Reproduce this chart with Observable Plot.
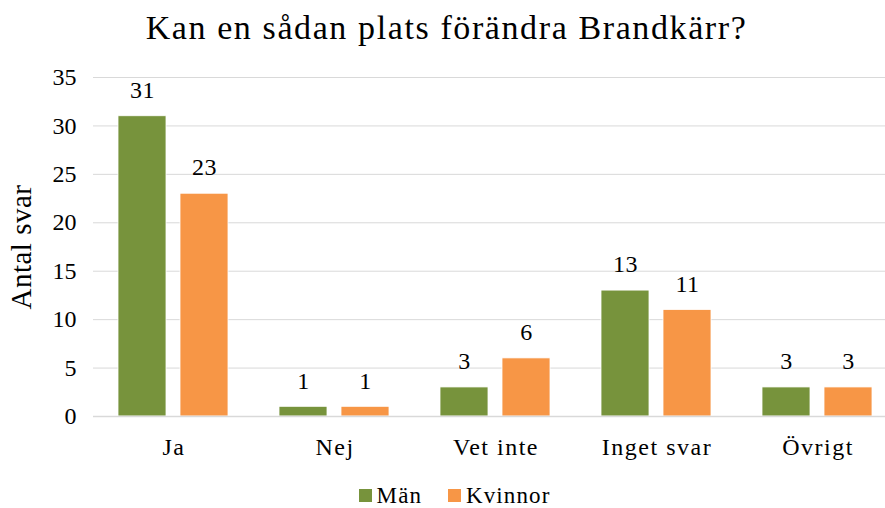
<!DOCTYPE html>
<html>
<head>
<meta charset="utf-8">
<script src="https://cdn.jsdelivr.net/npm/d3@7"></script>
<script src="https://cdn.jsdelivr.net/npm/@observablehq/plot@0.6"></script>
<style>
  body { margin: 0; background: #fff; font-family: "Liberation Serif", serif; }
  #wrap { width: 885px; height: 508px; overflow: hidden; position: relative; }
  #title { height: 55px; line-height: 55px; text-align: center; font-size: 34px; color: #000; letter-spacing: 1.6px; padding-left: 8px; }
  #legend { position: absolute; left: 0; top: 484px; width: 885px; height: 22px; line-height: 22px; box-sizing: border-box; padding-left: 24px; text-align: center; font-size: 23px; letter-spacing: 1.1px; }
  #legend span.item { display: inline-flex; align-items: center; margin: 0 13px; line-height: 22px; }
  #legend span.sw { display: inline-block; width: 13px; height: 13px; margin-right: 5px; }
  svg { display: block; }
  g[aria-label="fx-axis tick label"] text { letter-spacing: 1.5px; }
  g[aria-label="text"] text { letter-spacing: 0.5px; }
</style>
</head>
<body>
<div id="wrap">
  <div id="title">Kan en sådan plats förändra Brandkärr?</div>
  <div id="chart"></div>
  <div id="legend"></div>
</div>
<script>
const categories = ["Ja", "Nej", "Vet inte", "Inget svar", "Övrigt"];
const series = ["Män", "Kvinnor"];
const manValues = [31, 1, 3, 13, 3];
const kvinnorValues = [23, 1, 6, 11, 3];
const colors = ["#77933C", "#F79646"];
const yTicks = [0, 5, 10, 15, 20, 25, 30, 35];

const data = [];
categories.forEach((c, i) => {
  data.push({cat: c, series: series[0], value: manValues[i]});
  data.push({cat: c, series: series[1], value: kvinnorValues[i]});
});

const font = "Liberation Serif";
const chart = Plot.plot({
  width: 885,
  height: 420,
  marginTop: 22,
  marginBottom: 59,
  marginLeft: 92,
  marginRight: -14,
  style: {fontFamily: font, fontSize: "24px", color: "#000", background: "#fff"},
  fx: {domain: categories, paddingInner: 0, paddingOuter: 0, label: null, axis: null},
  x: {domain: series, paddingInner: 0.222, paddingOuter: 0.393, axis: null, label: null},
  y: {domain: [0, 35], ticks: yTicks, label: null, axis: null},
  color: {domain: series, range: colors},
  marks: [
    Plot.ruleY(yTicks.filter(d => d > 0), {stroke: "#d9d9d9", strokeWidth: 1}),
    Plot.barY(data, {fx: "cat", x: "series", y: "value", fill: "series", stroke: "#fff", strokeWidth: 0.8}),
    Plot.ruleY([0], {stroke: "#d9d9d9", strokeWidth: 1.5}),
    Plot.text(data, {fx: "cat", x: "series", y: "value", text: d => String(d.value), dy: -26, fontSize: 24, fontFamily: font, fill: "#000"}),
    Plot.axisY(yTicks, {tickSize: 0, tickPadding: 17, fontSize: 24, fontFamily: font, label: null, anchor: "left"}),
    Plot.axisFx({tickSize: 0, tickPadding: 21, fontSize: 24, fontFamily: font, label: null, anchor: "bottom"}),
    Plot.text(["Antal svar"], {frameAnchor: "left", textAnchor: "middle", rotate: -90, dx: -72, fontSize: 29, fontFamily: font, fill: "#000", facetAnchor: "left"})
  ]
});
document.getElementById("chart").appendChild(chart);

const leg = document.getElementById("legend");
series.forEach((s, i) => {
  const item = document.createElement("span");
  item.className = "item";
  const sw = document.createElement("span");
  sw.className = "sw";
  sw.style.background = colors[i];
  item.appendChild(sw);
  item.appendChild(document.createTextNode(s));
  leg.appendChild(item);
});
</script>
</body>
</html>
